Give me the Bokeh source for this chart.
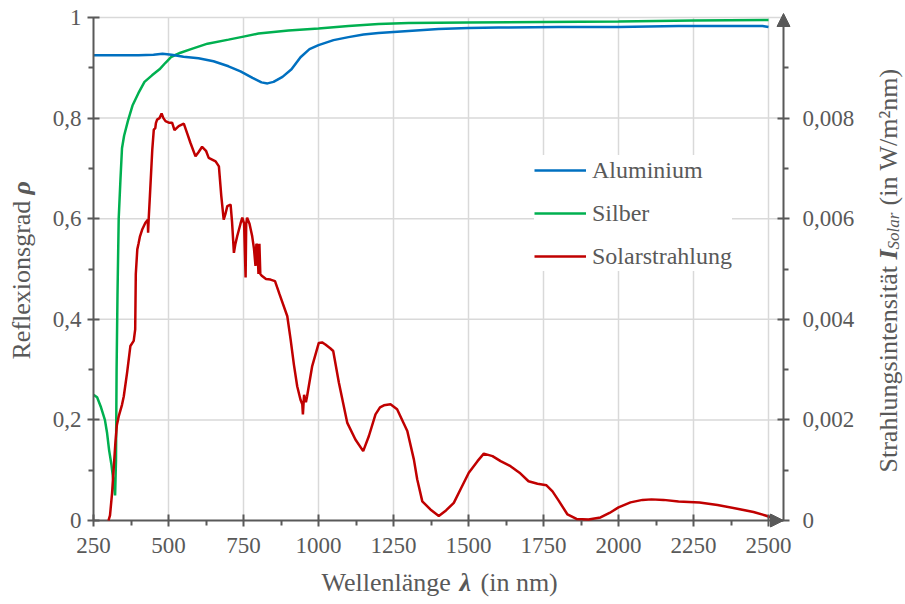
import math
from bokeh.plotting import figure
from bokeh.layouts import row, column
from bokeh.models import (Range1d, LinearAxis, FixedTicker, CustomJSTickFormatter,
                          Legend, LegendItem, Label, Arrow, NormalHead)
from bokeh.embed import file_html
from bokeh.resources import INLINE

# ---------------- data ----------------
al_wl = [250, 300, 350, 400, 450, 480, 510, 550, 600, 650, 700, 740, 780, 810, 830, 850,
         880, 910, 940, 970, 1000, 1050, 1100, 1150, 1200, 1300, 1400, 1500, 1600, 1800,
         2000, 2100, 2200, 2400, 2480, 2500]
al_r = [0.925, 0.925, 0.925, 0.925, 0.926, 0.928, 0.926, 0.922, 0.919, 0.913, 0.903, 0.893,
        0.880, 0.871, 0.869, 0.872, 0.882, 0.897, 0.921, 0.937, 0.945, 0.955, 0.961, 0.966,
        0.969, 0.973, 0.977, 0.979, 0.980, 0.981, 0.981, 0.982, 0.983, 0.983, 0.983, 0.981]

ag_wl = [250, 262, 275, 288, 295, 302, 310, 318, 322, 325, 327, 330, 334, 340, 345, 352,
         365, 380, 400, 420, 445, 470, 490, 510, 540, 575, 630, 700, 750, 800, 850, 900,
         1000, 1100, 1200, 1300, 1500, 1750, 2000, 2250, 2500]
ag_r = [0.25, 0.245, 0.225, 0.20, 0.175, 0.14, 0.11, 0.07, 0.05, 0.12, 0.30, 0.45, 0.60,
        0.68, 0.74, 0.765, 0.795, 0.825, 0.85, 0.872, 0.885, 0.897, 0.91, 0.922, 0.93,
        0.937, 0.948, 0.956, 0.962, 0.968, 0.971, 0.974, 0.978, 0.983, 0.987, 0.989,
        0.990, 0.991, 0.992, 0.994, 0.995]

sol_wl = [300, 305, 312, 318, 323, 328, 334, 345, 351, 362, 373, 384, 389, 391, 396, 400,
          405, 412, 423, 431, 432, 434, 438, 446, 451, 456, 458, 462, 470, 477, 483, 490,
          501, 512, 520, 534, 551, 562, 573, 590, 600, 612, 625, 634, 657, 668, 676, 684,
          690, 696, 707, 712, 718, 723, 729, 740, 746, 752, 757, 759, 762, 770, 779, 785,
          790, 793, 796, 800, 803, 806, 812, 825, 840, 855, 870, 896, 907, 918, 929, 940,
          946, 948, 952, 958, 962, 979, 1001, 1012, 1023, 1040, 1049, 1068, 1096, 1123,
          1149, 1168, 1190, 1205, 1218, 1240, 1262, 1296, 1318, 1329, 1346, 1373, 1401,
          1425, 1451, 1476, 1501, 1530, 1551, 1580, 1607, 1640, 1670, 1700, 1730, 1760,
          1780, 1800, 1830, 1860, 1900, 1940, 1970, 2000, 2040, 2080, 2110, 2150, 2200,
          2270, 2330, 2400, 2450, 2490, 2510]
sol_i = [0.0, 0.0001, 0.00055, 0.0011, 0.00155, 0.0019, 0.00207, 0.0023, 0.00247, 0.00294,
         0.00347, 0.00357, 0.0038, 0.0049, 0.00539, 0.0055, 0.00565, 0.00578, 0.00592,
         0.00598, 0.00572, 0.0060, 0.00645, 0.00738, 0.00777, 0.0078, 0.0079, 0.00797,
         0.0080, 0.00809, 0.0080, 0.00794, 0.00791, 0.00791, 0.00776, 0.00784, 0.00789,
         0.0077, 0.00751, 0.00724, 0.00732, 0.00743, 0.00735, 0.00721, 0.00714, 0.00704,
         0.00645, 0.00598, 0.0061, 0.00625, 0.00628, 0.00592, 0.00532, 0.0055, 0.00565,
         0.0059, 0.00602, 0.0059, 0.00483, 0.0059, 0.00602, 0.0059, 0.00565, 0.0054,
         0.00506, 0.0055, 0.00546, 0.0049, 0.0055, 0.0049, 0.00486, 0.0048, 0.00479,
         0.00476, 0.0045, 0.00406, 0.0036, 0.0031, 0.00267, 0.0024, 0.00231, 0.00211,
         0.0025, 0.00235, 0.00247, 0.00307, 0.00353, 0.00354, 0.0035, 0.00342, 0.00337,
         0.00274, 0.00194, 0.00161, 0.00138, 0.00168, 0.00211, 0.00225, 0.00229, 0.00231,
         0.00221, 0.00178, 0.00121, 0.00082, 0.00038, 0.00022, 0.00009, 0.0002, 0.00035,
         0.00065, 0.00095, 0.00118, 0.00133, 0.00128, 0.00118, 0.00108, 0.00095, 0.00078,
         0.00073, 0.0007, 0.00058, 0.0004, 0.00012, 0.00003, 0.00002, 0.00006, 0.00015,
         0.00026, 0.00036, 0.00041, 0.00042, 0.00041, 0.00038, 0.00036, 0.00031, 0.00023,
         0.00017, 0.0001, 0.00006]

x_ticks = [250, 500, 750, 1000, 1250, 1500, 1750, 2000, 2250, 2500]
x_minor = [375, 625, 875, 1125, 1375, 1625, 1875, 2125, 2375]
rho_ticks = [0, 0.2, 0.4, 0.6, 0.8, 1.0]
rho_minor = [0.1, 0.3, 0.5, 0.7, 0.9]
i_ticks = [0, 0.002, 0.004, 0.006, 0.008]
i_minor = [0.001, 0.003, 0.005, 0.007, 0.009]

legend_names = ["Aluminium", "Silber", "Solarstrahlung"]
colors = ["#0070C0", "#00B050", "#C00000"]

X_MIN, X_MAX = 250, 2550       # x axis span (nm)
RHO_MIN, RHO_MAX = 0.0, 1.0    # left axis span
I_SCALE = 0.01                 # right axis: I = rho * 0.01

# ---------------- layout ----------------
GREY = "#595959"
GRID = "#D9D9D9"
FONT = "Liberation Serif"
TICK_FONT = "23px"

LW, RW, BH = 45, 45, 38        # side title strips
MW, MH = 905 - LW - RW, 604 - BH
BL, BR, BT, BB = 48, 69, 10, 38
FW = MW - BL - BR
FH = MH - BT - BB
PAD = 8                        # frame padding beyond right / bottom axis (px)
TOP_PAD = 7
px_x = (X_MAX - X_MIN) / (FW - PAD)              # nm per px
px_y = (RHO_MAX - RHO_MIN) / (FH - PAD - TOP_PAD)  # rho per px
X_END = X_MAX + PAD * px_x
Y_START = RHO_MIN - PAD * px_y
Y_END = RHO_MAX + TOP_PAD * px_y

p = figure(width=MW, height=MH, x_range=Range1d(X_MIN, X_END),
           y_range=Range1d(Y_START, Y_END), output_backend="svg",
           toolbar_location=None, min_border_left=BL, min_border_right=BR,
           min_border_top=BT, min_border_bottom=BB)
p.frame_align = False
p.outline_line_color = None
p.background_fill_color = "white"
p.border_fill_color = "white"
p.grid.visible = False
p.extra_y_ranges = {"solar": Range1d(Y_START * I_SCALE, Y_END * I_SCALE)}

p.xaxis.ticker = FixedTicker(ticks=x_ticks, minor_ticks=x_minor)
p.yaxis.ticker = FixedTicker(ticks=rho_ticks, minor_ticks=rho_minor)
p.yaxis.formatter = CustomJSTickFormatter(
    code="return tick.toFixed(1).replace('.', ',').replace(/,0$/, '');")
p.yaxis.bounds = (RHO_MIN, RHO_MAX)

ax2 = LinearAxis(y_range_name="solar",
                 ticker=FixedTicker(ticks=i_ticks, minor_ticks=i_minor),
                 formatter=CustomJSTickFormatter(
                     code="return tick == 0 ? '0' : tick.toFixed(3).replace('.', ',');"))
p.add_layout(ax2, "right")

for ax in [p.xaxis[0], p.yaxis[0], ax2]:
    ax.axis_line_color = GREY
    ax.axis_line_width = 2
    ax.major_tick_line_color = GREY
    ax.major_tick_line_width = 2
    ax.minor_tick_line_color = GREY
    ax.minor_tick_line_width = 2
    ax.major_label_text_font = FONT
    ax.major_label_text_font_size = TICK_FONT
    ax.major_label_text_color = GREY

# left axis sits on the frame edge
p.yaxis.major_tick_in = 6
p.yaxis.major_tick_out = 6
p.yaxis.minor_tick_in = 0
p.yaxis.minor_tick_out = 5
p.yaxis.major_label_standoff = 6

# bottom and right axes: their lines are drawn PAD px inside the frame
for ax in [p.xaxis[0], ax2]:
    ax.axis_line_color = None
    ax.major_tick_in = PAD + 6
    ax.major_tick_out = 6 - PAD
    ax.minor_tick_in = PAD
    ax.minor_tick_out = 5 - PAD
p.xaxis.major_label_standoff = 11
ax2.major_label_standoff = 13

# grid lines (from the tick lists)
p.segment(x0=x_ticks[1:], y0=[RHO_MIN] * (len(x_ticks) - 1),
          x1=x_ticks[1:], y1=[RHO_MAX] * (len(x_ticks) - 1),
          line_color=GRID, line_width=1.5)
p.segment(x0=[X_MIN] * (len(rho_ticks) - 1), y0=rho_ticks[1:],
          x1=[X_MAX] * (len(rho_ticks) - 1), y1=rho_ticks[1:],
          line_color=GRID, line_width=1.5)
# bottom and right axis lines
p.segment(x0=[X_MIN, X_MAX], y0=[RHO_MIN, RHO_MIN], x1=[X_MAX, X_MAX],
          y1=[RHO_MIN, RHO_MAX], line_color=GREY, line_width=2)

r_ag = p.line(ag_wl, ag_r, line_color=colors[1], line_width=2.5)
r_al = p.line(al_wl, al_r, line_color=colors[0], line_width=2.5)
r_sol = p.line(sol_wl, sol_i, line_color=colors[2], line_width=2.5, y_range_name="solar")

legend = Legend(items=[LegendItem(label=legend_names[0], renderers=[r_al]),
                       LegendItem(label=legend_names[1], renderers=[r_ag]),
                       LegendItem(label=legend_names[2], renderers=[r_sol])],
                location=(441, 257), glyph_width=52, glyph_height=30, label_height=30,
                spacing=13, padding=8, margin=0, label_standoff=6,
                label_text_font=FONT, label_text_font_size="24px",
                label_text_color=GREY, border_line_color=None,
                background_fill_color="white", background_fill_alpha=1.0)
p.add_layout(legend, "center")

# axis arrows
p.add_layout(Arrow(end=NormalHead(size=13, fill_color=GREY, line_color=GREY),
                   x_start=X_MAX - 100, y_start=RHO_MIN, x_end=X_MAX, y_end=RHO_MIN,
                   line_alpha=0))
p.add_layout(Arrow(end=NormalHead(size=13, fill_color=GREY, line_color=GREY),
                   x_start=X_MAX, y_start=RHO_MAX - 0.05, x_end=X_MAX,
                   y_end=RHO_MAX + 4 * px_y, line_alpha=0))


# ---------------- axis title strips ----------------
def strip(w, h):
    f = figure(width=w, height=h, x_range=Range1d(0, w), y_range=Range1d(0, h),
               output_backend="svg", toolbar_location=None, min_border=0,
               x_axis_location=None, y_axis_location=None)
    f.frame_align = False
    f.outline_line_color = None
    f.grid.visible = False
    f.background_fill_color = "white"
    f.border_fill_color = "white"
    return f


def piece(f, txt, x, y, size=26, style="normal", angle=0.0):
    f.add_layout(Label(x=x, y=y, text=txt, angle=angle,
                       text_font=FONT, text_font_size=f"{size}px",
                       text_font_style=style, text_color=GREY,
                       text_align="left", text_baseline="alphabetic"))


left_f = strip(LW, 604)
L0 = 245
LX = 21
piece(left_f, "Reflexionsgrad", LX, L0, angle=math.pi / 2)
piece(left_f, "ρ", LX, L0 + 165, style="bold italic", angle=math.pi / 2)

bottom_f = strip(MW, BH)
B0 = 276
BY = 22
piece(bottom_f, "Wellenlänge", B0, BY)
piece(bottom_f, "λ", B0 + 138, BY, style="bold italic")
piece(bottom_f, "(in nm)", B0 + 159, BY)

right_f = strip(RW, 604)
R0 = 132
RX = 28
piece(right_f, "Strahlungsintensität", RX, R0, angle=math.pi / 2)
piece(right_f, "I", RX, R0 + 213, style="bold italic", angle=math.pi / 2)
piece(right_f, "Solar", RX + 5, R0 + 223, size=17, style="italic", angle=math.pi / 2)
piece(right_f, "(in W/m²nm)", RX, R0 + 267, angle=math.pi / 2)

lay = row(left_f, column(p, bottom_f), right_f)
open("out.html", "w").write(file_html(lay, INLINE))
